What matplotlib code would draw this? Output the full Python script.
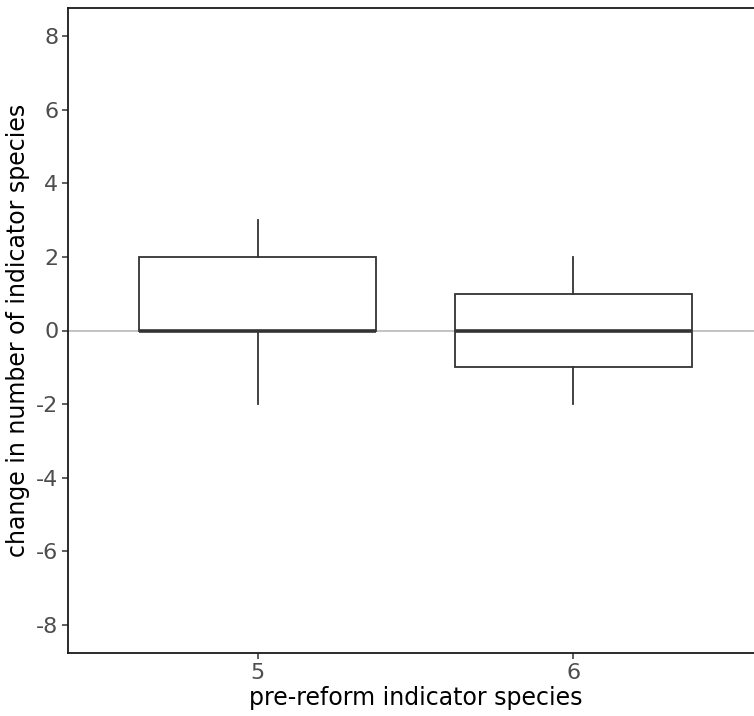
import matplotlib
matplotlib.use('Agg')
import matplotlib.pyplot as plt

# boxplot summaries
groups = ['5', '6']
whisker_low = [-2, -2]
q1 = [0, -1]
medians = [0, 0]
q3 = [2, 1]
whisker_high = [3, 2]
y_ticks = [-8, -6, -4, -2, 0, 2, 4, 6, 8]

fig = plt.figure(figsize=(7.54, 7.16), dpi=100)
ax = fig.add_axes([68 / 754, 1 - 653 / 716, 695 / 754, 645 / 716])

ax.axhline(0, color='#BEBEBE', lw=1.3, zorder=0)

stats = []
for i, g in enumerate(groups):
    stats.append(dict(label=g, whislo=whisker_low[i], q1=q1[i], med=medians[i],
                      q3=q3[i], whishi=whisker_high[i], fliers=[]))

ax.bxp(stats, positions=[1, 2], widths=0.75, showcaps=False, patch_artist=True,
       boxprops=dict(facecolor='white', edgecolor='#333333', lw=1.3),
       whiskerprops=dict(color='#333333', lw=1.3),
       medianprops=dict(color='#333333', lw=2.6, solid_capstyle='butt'))

ax.set_xlim(0.4, 2.6)
ax.set_ylim(-8.76, 8.76)
ax.set_yticks(y_ticks)
ax.set_yticklabels([str(v) for v in y_ticks])
ax.set_xticks([1, 2])
ax.set_xticklabels(groups)

for s in ax.spines.values():
    s.set_color('#1a1a1a')
    s.set_linewidth(1.3)
ax.tick_params(colors='#333333', labelcolor='#4D4D4D', labelsize=16, length=4, width=1.1, pad=3)
ax.set_xlabel('pre-reform indicator species', fontsize=17, color='black', labelpad=2)
ax.set_ylabel('change in number of indicator species', fontsize=17, color='black', labelpad=4)

fig.savefig('out.png', dpi=100)
